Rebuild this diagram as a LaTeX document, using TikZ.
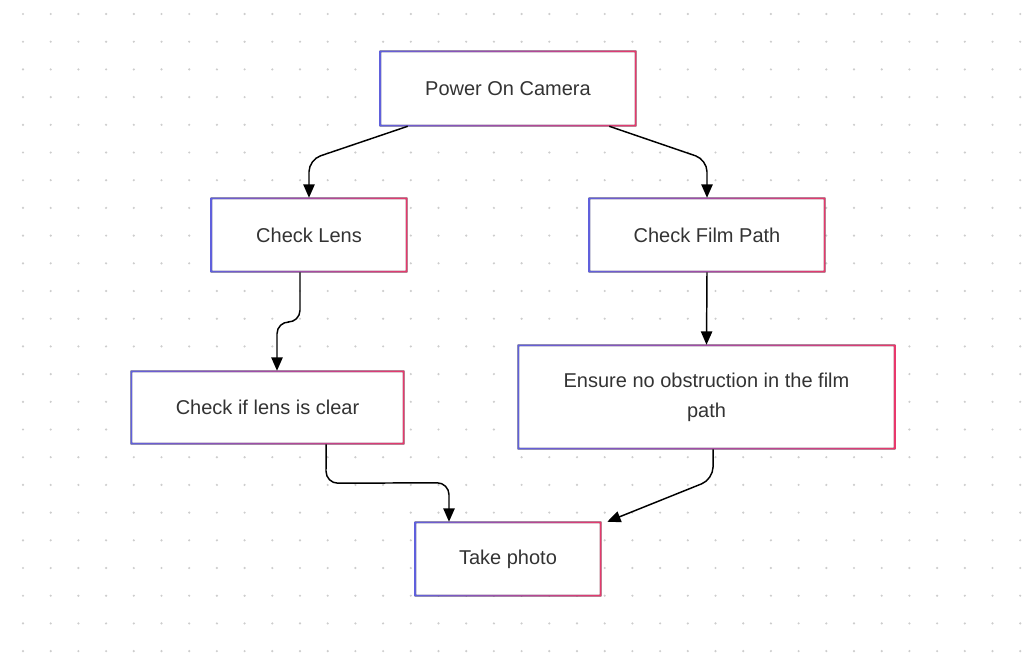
\documentclass[tikz,border=0pt]{standalone}
\usepackage{fontspec}
\setmainfont{Liberation Sans}
\usetikzlibrary{arrows.meta,calc}
\definecolor{bblue}{RGB}{96,96,220}
\definecolor{rred}{RGB}{232,56,108}
\definecolor{txt}{RGB}{51,51,51}
\definecolor{dotc}{RGB}{205,205,205}
\newcommand\gframe[1]{%
  \fill[left color=bblue, right color=rred, even odd rule]
    (#1.south west) rectangle (#1.north east)
    ([xshift=1.1pt,yshift=1.1pt]#1.south west) rectangle ([xshift=-1.1pt,yshift=-1.1pt]#1.north east);}
\tikzset{
  box/.style={fill=white, inner sep=0pt, text=txt, align=center,
    font=\fontsize{15pt}{22.5pt}\selectfont},
  conn/.style={draw=black, line width=1.1pt, rounded corners=9pt,
    -{Triangle[length=10pt,width=8.5pt]}}
}
\begin{document}
\begin{tikzpicture}[x=0.75pt,y=-0.75pt]
\useasboundingbox[fill=white] (0,0) rectangle (1024,653);
\foreach \i in {0,...,36} {\foreach \j in {0,...,23} {
  \fill[dotc] ({23+27.7*\i},{14+27.7*\j}) circle (0.9pt);}}
\node[box, minimum width=192pt, minimum height=56.25pt] (p) at (508,88.5) {Power On Camera};
\node[box, minimum width=147pt, minimum height=55.5pt] (cl) at (309,235) {Check Lens};
\node[box, minimum width=177pt, minimum height=55.5pt] (fp) at (707,235) {Check Film Path};
\node[box, minimum width=204.75pt, minimum height=54.75pt] (cc) at (267.5,407.5) {Check if lens is clear};
\node[box, minimum width=282.75pt, minimum height=78pt] (en) at (706.5,397) {Ensure no obstruction in the film\\path};
\node[box, minimum width=139.5pt, minimum height=55.5pt] (tp) at (508,559) {Take photo};
\gframe{p}\gframe{cl}\gframe{fp}\gframe{cc}\gframe{en}\gframe{tp}
\draw[conn] ([xshift=21pt]p.south west) -- ($(cl.north)+(0,-38)$) -- (cl.north);
\draw[conn] ([xshift=-20.25pt]p.south east) -- ($(fp.north)+(0,-38)$) -- (fp.north);
\draw[conn] ([xshift=-6.75pt]cl.south) -- ($(cl.south)+(-9,50)$) -- ($(cc.north)+(9.5,-49)$) -- ($(cc.north)+(9.5,0)$);
\draw[conn] (fp.south) -- (en.north);
\draw[conn] ([xshift=43.9pt]cc.south) -- ($(cc.south)+(58.5,39)$) -- ($(tp.north)+(-59,-39)$) -- ($(tp.north)+(-59,0)$);
\draw[conn] ([xshift=4.9pt]en.south) -- ($(en.south)+(6.5,30)$) -- ($(tp.north east)+(6,0)$);
\end{tikzpicture}
\end{document}
